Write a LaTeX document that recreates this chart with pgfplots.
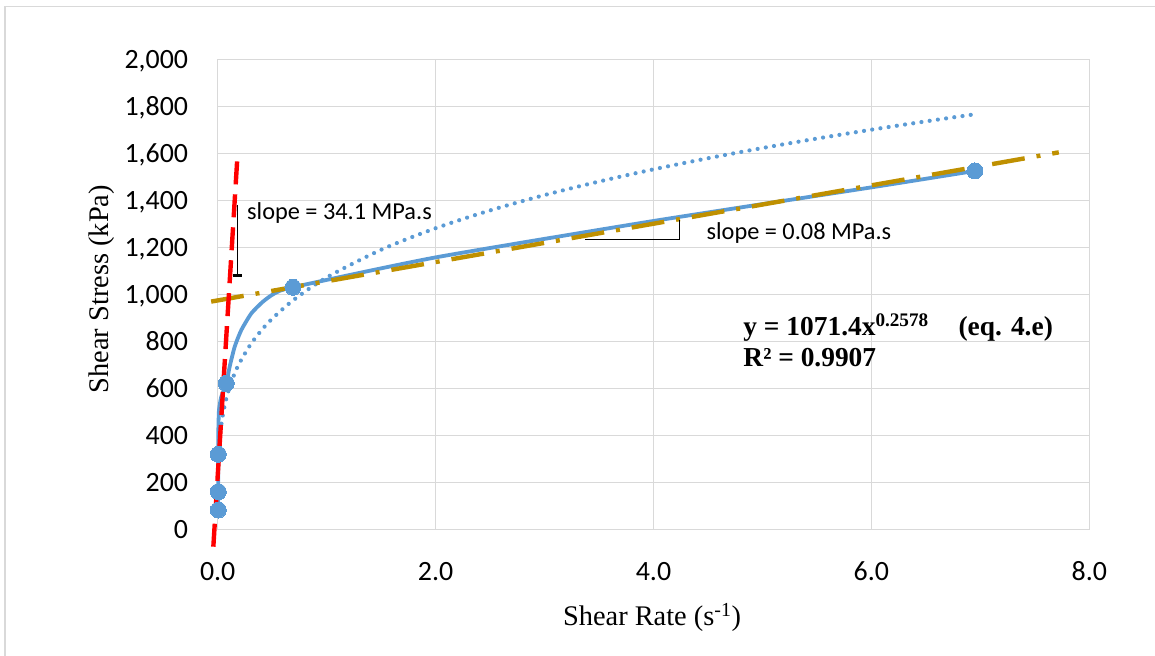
\documentclass[border=0pt]{standalone}
\usepackage{pgfplots}
\pgfplotsset{compat=1.18}
\usepackage{fontspec}
\setmainfont{Liberation Serif}
\newfontfamily\calfont{Carlito}
\definecolor{gridc}{HTML}{D9D9D9}
\definecolor{xblue}{HTML}{5B9BD5}
\definecolor{xgold}{HTML}{BF9000}
\definecolor{xred}{HTML}{FF0000}
\begin{document}
\begin{tikzpicture}
\path[use as bounding box] (-217.7bp,-126.7bp) rectangle (937.3bp,529.3bp);
\draw[gridc, line width=1.5bp] (-212.9bp,-300bp) -- (-212.9bp,523.0bp) -- (1200bp,523.0bp);
\begin{axis}[
  at={(0,0)}, anchor=south west, scale only axis,
  width=871.6bp, height=470bp,
  xmin=0, xmax=8, ymin=0, ymax=2000,
  xtick={0,2,4,6,8}, xticklabels={0.0,2.0,4.0,6.0,8.0},
  ytick={0,200,400,600,800,1000,1200,1400,1600,1800,2000},
  yticklabels={0,200,400,600,800,{1,000},{1,200},{1,400},{1,600},{1,800},{2,000}},
  grid=major, major grid style={draw=gridc, line width=1.3bp},
  axis line style={draw=gridc, line width=1.3bp},
  major tick length=0pt,
  tick label style={font=\calfont\fontsize{28}{34}\selectfont},
  yticklabel style={anchor=base east, inner sep=0pt, xshift=-29.4bp, yshift=-8.9bp},
  xticklabel style={anchor=base, inner sep=0pt, yshift=-51.4bp},
  xlabel={Shear Rate (s\textsuperscript{-1})},
  ylabel={Shear Stress (kPa)},
  label style={font=\fontsize{28.5}{34}\selectfont},
  xlabel style={at={(axis description cs:0.4983,-0.1866)}, anchor=center},
  ylabel style={at={(axis description cs:-0.1331,0.511)}, anchor=center},
  clip=false,
]
% measured data, smoothed line (as drawn)
\addplot[xblue, line width=3.8bp, smooth, tension=0.35, mark=none]
  coordinates {(0.0055,82) (0.0055,160) (0.0055,319) (0.006,422) (0.012,508)
  (0.033,564) (0.079,621) (0.110,692) (0.156,777) (0.217,848) (0.309,919)
  (0.416,969) (0.523,1004) (0.691,1030) (2.0,1157) (4.0,1312) (6.0,1455) (6.95,1525)};
% power trendline y = 1071.4 x^0.2578
\addplot[xblue, line width=4.2bp, line cap=round, dash pattern=on 0pt off 8.3bp, smooth]
  coordinates {(0.005,273.3) (0.01,326.9) (0.02,390.8) (0.03,433.9) (0.05,495.0)
  (0.075,549.4) (0.1,591.7) (0.15,657.0) (0.2,707.6) (0.3,785.5) (0.4,846.0)
  (0.5,896.1) (0.7,977.2) (1,1071.4) (1.5,1189.5) (2,1281.1) (2.5,1356.9)
  (3,1422.2) (3.5,1479.8) (4,1531.7) (4.5,1578.9) (5,1622.4) (5.5,1662.7)
  (6,1700.4) (6.5,1735.9) (6.95,1766.1)};
% markers
\addplot[xblue, only marks, mark=*, mark size=8bp, mark options={fill=xblue, draw=xblue, line width=0pt}]
  coordinates {(0.0055,82) (0.0055,160) (0.0055,319) (0.079,621) (0.691,1030) (6.95,1525)};
% tangent lines
\addplot[xgold, line width=4.4bp, dash pattern=on 33bp off 12bp on 4bp off 12bp]
  coordinates {(-0.06,969) (7.72,1604)};
\addplot[xred, line width=4.4bp, dash pattern=on 23bp off 10bp]
  coordinates {(-0.040,-74) (0.180,1579)};
% slope annotations
\draw[black, line width=1.2bp] (0.180,1380) -- (0.180,1082);
\draw[black, line width=3bp] (0.143,1082) -- (0.220,1082);
\draw[black, line width=1.2bp] (3.371,1234) -- (4.237,1234) -- (4.237,1316);
\node[anchor=west, inner sep=0pt, font=\calfont\fontsize{24.4}{28}\selectfont] at (0.269,1346) {slope = 34.1 MPa.s};
\node[anchor=west, inner sep=0pt, font=\calfont\fontsize{24.4}{28}\selectfont] at (4.486,1261) {slope = 0.08 MPa.s};
\node[anchor=base west, inner sep=0pt, font=\bfseries\fontsize{27.5}{32}\selectfont] at (4.824,822.6) {y = 1071.4x\textsuperscript{0.2578}};
\node[anchor=base west, inner sep=0pt, font=\bfseries\fontsize{27.5}{32}\selectfont] at (6.798,822.6) {(eq. 4.e)};
\node[anchor=base west, inner sep=0pt, font=\bfseries\fontsize{27.5}{32}\selectfont] at (4.824,692) {R² = 0.9907};
\end{axis}
\end{tikzpicture}
\end{document}
